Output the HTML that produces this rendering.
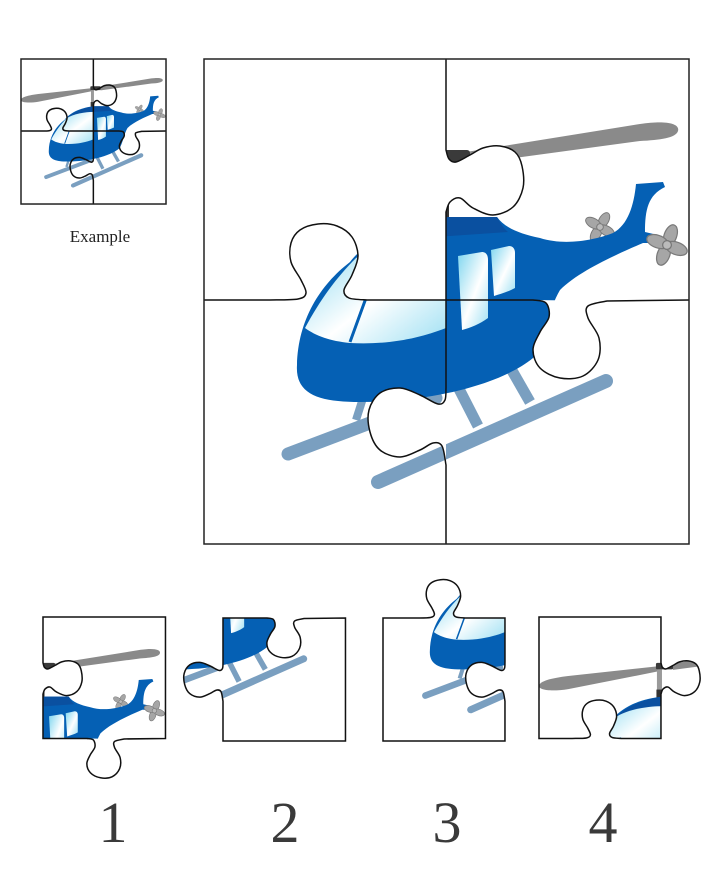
<!DOCTYPE html>
<html><head><meta charset="utf-8"><style>
html,body{margin:0;padding:0;background:#fff;}
svg{display:block}
</style></head><body>
<svg id="s" width="725" height="886" viewBox="0 0 725 886" xmlns="http://www.w3.org/2000/svg">
<defs>
<linearGradient id="gl" x1="0" y1="0" x2="1" y2="1">
<stop offset="0" stop-color="#7fd6ef"/><stop offset="0.55" stop-color="#ffffff"/><stop offset="1" stop-color="#9fe0f3"/>
</linearGradient>
<g id="prop">
<ellipse cx="0" cy="-8" rx="5" ry="9" fill="#a6a6a6" stroke="#7a7a7a" stroke-width="1"/>
<ellipse cx="0" cy="8" rx="5" ry="9" fill="#a6a6a6" stroke="#7a7a7a" stroke-width="1"/>
<ellipse cx="-8" cy="0" rx="9" ry="5" fill="#a6a6a6" stroke="#7a7a7a" stroke-width="1"/>
<ellipse cx="8" cy="0" rx="9" ry="5" fill="#a6a6a6" stroke="#7a7a7a" stroke-width="1"/>
<circle r="3.5" fill="#bbb" stroke="#777"/>
</g>
<g id="heli">
<path d="M204,196 C204,186 230,180 262,176 L438,157 L440,167 L262,202 C232,207 204,205 204,196 Z" fill="#8a8a8a"/>
<path d="M466,152 L640,124 C668,120 680,124 678,131 C676,138 660,140 640,141 L470,164 Z" fill="#8a8a8a"/>
<rect x="438" y="163" width="10" height="44" fill="#9a9a9a"/>
<rect x="437" y="203" width="12" height="16" fill="#333"/>
<rect x="436" y="150" width="34" height="13" rx="3" fill="#3a3a3a"/>
<line x1="288" y1="454" x2="436" y2="398" stroke="#7a9fc0" stroke-width="13" stroke-linecap="round"/>
<line x1="356" y1="420" x2="364" y2="395" stroke="#7a9fc0" stroke-width="8"/>
<line x1="378" y1="482" x2="606" y2="381" stroke="#7a9fc0" stroke-width="14" stroke-linecap="round"/>
<line x1="456" y1="383" x2="478" y2="426" stroke="#7a9fc0" stroke-width="11"/>
<line x1="506" y1="360" x2="530" y2="402" stroke="#7a9fc0" stroke-width="11"/>
<use href="#prop" transform="translate(600,227) scale(0.95) rotate(30)"/>
<path d="M350,262 C370,236 410,220 450,217 L497,217 C505,228 520,234 540,238 C565,246 595,240 613,233 C628,225 634,205 636,184 L663,182 L665,187 C648,195 645,210 645,232 L662,236 L662,243 L643,243 C620,253 580,270 560,290 C548,310 545,340 533,358 C500,385 430,402 360,402 C320,402 295,395 297,365 C298,320 320,285 350,262 Z" fill="#0560b4"/>
<path d="M352,262 C372,238 410,222 450,217 L497,217 C500,222 503,228 508,232 L450,236 C420,236 385,245 352,262 Z" fill="#0a50a0"/>
<path d="M356,258 C380,242 420,236 446,236 L446,328 C420,338 390,345 350,343 C330,341 316,336 305,328 C320,300 336,278 356,258 Z" fill="url(#gl)"/>
<path d="M458,256 L482,252 C486,252 488,255 488,260 L488,318 C480,324 470,328 462,330 Z" fill="url(#gl)"/>
<path d="M491,250 L509,246 C513,246 515,249 515,253 L515,288 C508,292 500,294 494,296 Z" fill="url(#gl)"/>
<line x1="366" y1="298" x2="350" y2="342" stroke="#0560b4" stroke-width="3"/>
<use href="#prop" transform="translate(667,245) scale(1.25) rotate(20)"/>
</g>
</defs>

<!-- main puzzle -->
<use href="#heli"/>
<path id="w4" fill="#fff"/>
<path id="wD" fill="#fff"/>
<path id="wL" fill="#fff"/>
<path id="lines" fill="none" stroke="#111" stroke-width="1.5"/>
<rect x="204" y="59" width="485" height="485" fill="none" stroke="#222" stroke-width="1.5"/>

<!-- example -->
<g transform="translate(21,59) scale(0.299) translate(-204,-59)">
<use href="#heli"/>
<path id="lines2" fill="none" stroke="#111" stroke-width="5"/>
<rect x="204" y="59" width="485" height="485" fill="none" stroke="#222" stroke-width="5"/>
</g>
<text x="100" y="242" font-family="Liberation Serif, serif" font-size="17" text-anchor="middle" fill="#222">Example</text>

<!-- pieces -->
<clipPath id="c1"><path id="cp1"/></clipPath>
<clipPath id="c2"><path id="cp2"/></clipPath>
<clipPath id="c3"><path id="cp3"/></clipPath>
<clipPath id="c4"><path id="cp4"/></clipPath>
<g transform="translate(43,617) scale(0.504) translate(-446,-59)">
<g clip-path="url(#c1)"><use href="#heli"/></g><path id="wD1" fill="#fff"/>
<path id="o1" fill="none" stroke="#111" stroke-width="3"/>
</g>
<g transform="translate(223,618) scale(0.504) translate(-446,-300)">
<g clip-path="url(#c2)"><use href="#heli"/></g>
<path id="o2" fill="none" stroke="#111" stroke-width="3"/>
</g>
<g transform="translate(383,618) scale(0.504) translate(-204,-300)">
<g clip-path="url(#c3)"><use href="#heli"/></g>
<path id="o3" fill="none" stroke="#111" stroke-width="3"/>
</g>
<g transform="translate(539,617) scale(0.504) translate(-204,-59)">
<g clip-path="url(#c4)"><use href="#heli"/></g>
<path id="o4" fill="none" stroke="#111" stroke-width="3"/>
</g>

<g font-family="Liberation Serif, serif" font-size="58" fill="#3a3a3a" text-anchor="middle">
<text x="113" y="842">1</text>
<text x="285" y="842">2</text>
<text x="447" y="842">3</text>
<text x="603" y="842">4</text>
</g>
</svg>
<script>
var TR=[[446,150],[449,159],[456,162],[470,155],[483,148],[500,146],[515,152],[522,166],[523,188],[513,207],[493,215],[473,208],[460,198],[450,202],[446,212]];
var TL=[[446,388],[445,400],[438,404],[420,395],[400,388],[380,393],[369,410],[370,432],[380,450],[400,457],[420,450],[433,443],[442,446],[446,465]];
var TU=[[270,300],[298,299],[306,293],[301,280],[291,262],[291,243],[300,230],[318,224],[337,226],[352,237],[358,256],[352,275],[344,290],[349,298],[367,300]];
var TD=[[533,300],[546,303],[549,317],[540,332],[533,350],[540,368],[560,378],[583,376],[598,360],[599,338],[588,318],[588,306],[607,301]];
function cr(p){var s="";for(var i=0;i<p.length-1;i++){var p0=p[Math.max(i-1,0)],p1=p[i],p2=p[i+1],p3=p[Math.min(i+2,p.length-1)];
var c1=[p1[0]+(p2[0]-p0[0])/6,p1[1]+(p2[1]-p0[1])/6],c2=[p2[0]-(p3[0]-p1[0])/6,p2[1]-(p3[1]-p1[1])/6];
s+=" C"+c1[0].toFixed(1)+","+c1[1].toFixed(1)+" "+c2[0].toFixed(1)+","+c2[1].toFixed(1)+" "+p2[0]+","+p2[1];}return s;}
function rv(p){return p.slice().reverse();}
function L(p){return " L"+p[0]+","+p[1];}
var P4="M204,59 L446,59"+L(TR[0])+cr(TR)+" L446,300"+L(TU[TU.length-1])+cr(rv(TU))+" L204,300 Z";
var P1="M446,59 L689,59 L689,300"+L(TD[TD.length-1])+cr(rv(TD))+" L446,300"+L(TR[TR.length-1])+cr(rv(TR))+" Z";
var P3="M204,300"+L(TU[0])+cr(TU)+" L446,300"+L(TL[0])+cr(TL)+" L446,544 L204,544 Z";
var P2="M446,300"+L(TD[0])+cr(TD)+" L689,300 L689,544 L446,544"+L(TL[TL.length-1])+cr(rv(TL))+" Z";
var lines="M446,59"+L(TR[0])+cr(TR)+L(TL[0])+cr(TL)+" L446,544 M204,300"+L(TU[0])+cr(TU)+L(TD[0])+cr(TD)+" L689,300";
function set(id,d){var e=document.getElementById(id);if(e)e.setAttribute("d",d);}
set("w4",P4);
set("wD","M"+TD[0]+cr(TD)+" Z");
set("wL","M"+TL[0]+cr(TL)+" Z");
set("wD1","M"+TD[0]+cr(TD)+" Z");
set("lines",lines);set("lines2",lines);
set("cp1",P1);set("cp2",P2);set("cp3",P3);set("cp4",P4);
set("o1",P1);set("o2",P2);set("o3",P3);set("o4",P4);
</script>
</body></html>
